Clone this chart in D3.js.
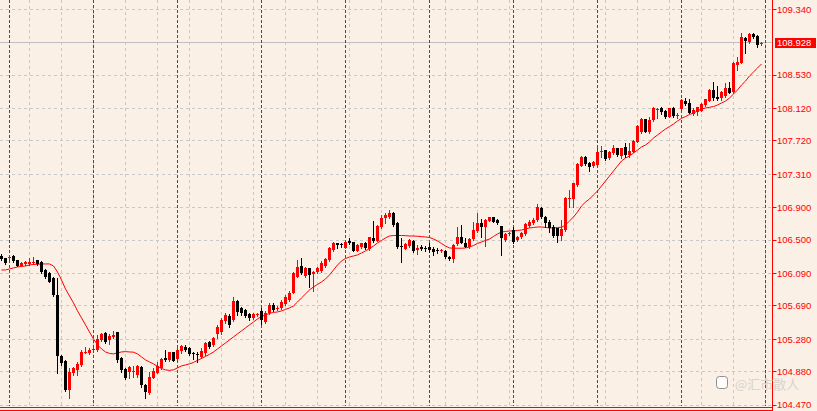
<!DOCTYPE html>
<html>
<head>
<meta charset="utf-8">
<script src="https://cdn.jsdelivr.net/npm/d3@7"></script>
<style>
  html, body { margin: 0; padding: 0; background: #faf0e6; }
  svg { display: block; }
</style>
</head>
<body>
<svg id="chart" width="817" height="411"></svg>
<script>
// daily candles, oldest first
var openPrices = [
  106.308,106.276,106.276,106.308,106.251,106.185,106.202,106.206,106.218,106.255,
  106.234,106.132,106.091,106.037,105.825,105.078,105.013,104.656,104.861,104.902,
  104.963,105.107,105.115,105.148,105.148,105.271,105.353,105.271,105.312,105.366,
  105.053,104.914,104.881,104.881,104.840,104.943,104.718,104.615,104.807,104.861,
  104.923,105.045,105.025,105.120,105.036,105.136,105.189,105.176,105.107,105.099,
  105.066,105.107,105.250,105.210,105.345,105.369,105.505,105.566,105.517,105.754,
  105.661,105.640,105.591,105.535,105.578,105.631,105.492,105.599,105.702,105.656,
  105.661,105.714,105.763,105.853,106.050,106.181,106.058,106.153,106.083,106.104,
  106.123,106.181,106.255,106.378,106.460,106.452,106.406,106.485,106.473,106.369,
  106.411,106.468,106.387,106.526,106.492,106.665,106.768,106.780,106.829,106.710,
  106.421,106.396,106.427,106.492,106.378,106.419,106.403,106.415,106.387,106.378,
  106.372,106.369,106.296,106.267,106.452,106.534,106.468,106.411,106.513,106.612,
  106.704,106.661,106.738,106.780,106.747,106.667,106.501,106.569,106.618,106.501,
  106.532,106.575,106.677,106.706,106.747,106.895,106.788,106.722,106.657,106.645,
  106.550,106.624,107.005,107.011,107.177,107.417,107.526,107.452,107.407,107.423,
  107.592,107.604,107.506,107.568,107.629,107.534,107.651,107.541,107.587,107.710,
  107.824,107.987,107.834,107.978,108.101,108.122,108.092,108.018,108.129,108.030,
  108.109,108.215,108.187,108.051,108.080,108.092,108.162,108.215,108.347,108.264,
  108.245,108.273,108.368,108.326,108.654,108.683,108.983,108.941,109.036,109.011,
  108.909
];
var highPrices = [
  106.325,106.283,106.316,106.316,106.255,106.227,106.243,106.276,106.288,106.259,
  106.243,106.144,106.104,106.050,106.030,105.087,105.025,104.923,104.943,105.004,
  105.148,105.189,105.176,105.210,105.333,105.353,105.366,105.341,105.382,105.373,
  105.066,104.923,104.955,104.955,104.963,104.951,104.726,104.881,104.923,105.004,
  105.045,105.148,105.127,105.127,105.201,105.210,105.210,105.185,105.127,105.127,
  105.169,105.250,105.263,105.312,105.456,105.538,105.599,105.591,105.803,105.763,
  105.680,105.649,105.603,105.607,105.607,105.665,105.628,105.722,105.722,105.689,
  105.763,105.825,105.874,106.107,106.255,106.276,106.173,106.157,106.120,106.173,
  106.246,106.276,106.419,106.480,106.468,106.468,106.492,106.522,106.480,106.448,
  106.468,106.480,106.542,106.738,106.682,106.809,106.837,106.870,106.849,106.719,
  106.526,106.458,106.507,106.501,106.440,106.440,106.427,106.460,106.419,106.399,
  106.394,106.378,106.308,106.452,106.661,106.686,106.522,106.522,106.726,106.837,
  106.759,106.759,106.788,106.788,106.756,106.673,106.583,106.603,106.657,106.554,
  106.603,106.706,106.747,106.768,106.938,106.911,106.796,106.747,106.686,106.652,
  106.747,107.034,107.116,107.202,107.444,107.534,107.534,107.460,107.472,107.649,
  107.657,107.612,107.595,107.670,107.637,107.637,107.690,107.690,107.731,107.916,
  107.999,107.994,108.018,108.134,108.122,108.134,108.101,108.129,108.138,108.060,
  108.232,108.245,108.232,108.125,108.141,108.183,108.240,108.355,108.449,108.396,
  108.334,108.429,108.449,108.691,108.757,109.045,109.003,109.045,109.045,109.020,
  108.940
];
var lowPrices = [
  106.255,106.206,106.255,106.234,106.177,106.177,106.193,106.193,106.202,106.193,
  106.091,106.030,105.981,105.816,104.861,104.963,104.647,104.554,104.840,104.840,
  104.955,105.107,105.102,105.136,105.136,105.259,105.230,105.222,105.299,104.997,
  104.881,104.791,104.807,104.820,104.820,104.697,104.562,104.607,104.800,104.861,
  104.914,105.013,105.016,105.013,105.025,105.107,105.136,105.087,105.033,105.004,
  105.046,105.087,105.169,105.197,105.296,105.345,105.484,105.431,105.508,105.578,
  105.578,105.554,105.517,105.523,105.566,105.468,105.480,105.591,105.628,105.640,
  105.652,105.702,105.751,105.845,106.042,106.083,106.050,105.919,105.877,106.091,
  106.111,106.173,106.246,106.369,106.399,106.411,106.399,106.452,106.366,106.362,
  106.403,106.387,106.378,106.480,106.485,106.645,106.706,106.768,106.673,106.403,
  106.234,106.384,106.419,106.353,106.329,106.378,106.366,106.357,106.317,106.341,
  106.353,106.283,106.255,106.230,106.443,106.460,106.411,106.403,106.501,106.603,
  106.542,106.427,106.735,106.719,106.698,106.317,106.492,106.563,106.460,106.492,
  106.522,106.566,106.665,106.701,106.738,106.772,106.657,106.603,106.542,106.480,
  106.501,106.612,106.911,106.911,107.171,107.411,107.423,107.353,107.398,107.403,
  107.526,107.481,107.497,107.563,107.538,107.506,107.526,107.526,107.583,107.707,
  107.817,107.824,107.814,107.969,107.999,108.051,107.999,108.014,108.018,107.999,
  108.101,108.158,108.060,108.039,108.039,108.085,108.153,108.208,108.224,108.224,
  108.224,108.264,108.306,108.306,108.593,108.675,108.806,108.929,108.983,108.880,
  108.897
];
var closePrices = [
  106.267,106.214,106.296,106.243,106.185,106.214,106.234,106.234,106.230,106.202,
  106.111,106.050,105.988,105.825,105.078,104.984,104.656,104.874,104.923,104.976,
  105.127,105.127,105.148,105.160,105.283,105.341,105.250,105.324,105.333,105.025,
  104.902,104.800,104.943,104.894,104.955,104.718,104.635,104.820,104.890,104.955,
  105.036,105.028,105.120,105.016,105.148,105.197,105.148,105.095,105.095,105.087,
  105.139,105.230,105.189,105.292,105.431,105.517,105.578,105.456,105.754,105.615,
  105.599,105.566,105.535,105.591,105.591,105.517,105.603,105.702,105.640,105.665,
  105.742,105.803,105.853,106.091,106.173,106.091,106.153,106.071,106.111,106.153,
  106.214,106.264,106.399,106.468,106.440,106.443,106.480,106.468,106.369,106.440,
  106.460,106.399,106.534,106.492,106.673,106.768,106.809,106.837,106.686,106.415,
  106.411,106.446,106.495,106.366,106.403,106.387,106.394,106.378,106.357,106.362,
  106.378,106.292,106.267,106.440,106.538,106.468,106.415,106.510,106.624,106.706,
  106.661,106.747,106.780,106.726,106.704,106.526,106.575,106.583,106.477,106.542,
  106.583,106.698,106.719,106.751,106.901,106.778,106.706,106.649,106.550,106.546,
  106.642,107.014,107.018,107.198,107.435,107.526,107.442,107.395,107.464,107.587,
  107.599,107.503,107.587,107.633,107.547,107.629,107.547,107.596,107.719,107.903,
  107.987,107.834,107.978,108.122,108.109,108.080,108.011,108.122,108.027,108.039,
  108.224,108.174,108.067,108.101,108.134,108.174,108.232,108.347,108.245,108.232,
  108.326,108.368,108.313,108.683,108.695,108.995,108.953,109.036,109.003,108.901,
  108.928
];
// moving average line
var maValues = [
  106.132,106.132,106.144,106.157,106.169,106.175,106.181,106.193,106.200,106.202,
  106.206,106.206,106.206,106.181,106.107,106.009,105.898,105.812,105.726,105.628,
  105.542,105.456,105.369,105.283,105.210,105.160,105.123,105.105,105.099,105.111,
  105.123,105.127,105.123,105.120,105.099,105.062,105.025,105.000,104.976,104.945,
  104.920,104.902,104.896,104.902,104.927,104.951,104.963,104.976,104.994,105.019,
  105.043,105.068,105.093,105.123,105.160,105.197,105.234,105.271,105.308,105.345,
  105.382,105.419,105.456,105.492,105.529,105.560,105.578,105.597,105.609,105.615,
  105.628,105.646,105.665,105.689,105.738,105.788,105.837,105.886,105.923,105.954,
  105.984,106.021,106.071,106.132,106.193,106.243,106.273,106.292,106.304,106.317,
  106.341,106.366,106.396,106.427,106.464,106.495,106.526,106.550,106.556,106.556,
  106.556,106.554,106.550,106.550,106.547,106.542,106.538,106.532,106.513,106.489,
  106.458,106.427,106.403,106.399,106.399,106.399,106.403,106.415,106.433,106.458,
  106.476,106.495,106.513,106.544,106.575,106.599,106.606,106.612,106.612,106.618,
  106.624,106.636,106.649,106.655,106.661,106.661,106.655,106.649,106.649,106.655,
  106.657,106.686,106.735,106.784,106.845,106.919,106.968,107.005,107.055,107.104,
  107.165,107.227,107.288,107.350,107.411,107.473,107.510,107.534,107.571,107.608,
  107.645,107.670,107.707,107.756,107.793,107.830,107.867,107.897,107.928,107.965,
  107.998,108.020,108.045,108.063,108.088,108.113,108.125,108.134,108.143,108.162,
  108.187,108.211,108.248,108.297,108.347,108.408,108.457,108.519,108.568,108.617,
  108.667
];
var priceTicks = [109.34, 108.53, 108.12, 107.72, 107.31, 106.90, 106.50, 106.09, 105.69, 105.28, 104.88, 104.47];
var bidPrice = 108.928;

var svg = d3.select("#chart");
var W = 817, H = 411, axisX = 772.5;
var bg = "#faf0e6", red = "#ff0000";

svg.append("rect").attr("width", W).attr("height", H).attr("fill", bg);

var n = closePrices.length;
var x = d3.scaleLinear().domain([0, n - 1]).range([1.5, 1.5 + 4 * (n - 1)]);
var y = d3.scaleLinear().domain([104.47, 109.34]).range([405, 9.3]);
var crisp = function(v) { return Math.round(v - 0.5) + 0.5; };

var grid = svg.append("g");

// horizontal grid
grid.selectAll("line.h")
  .data(priceTicks)
  .enter().append("line")
  .attr("x1", 0).attr("x2", axisX)
  .attr("y1", function(d) { return crisp(y(d)); })
  .attr("y2", function(d) { return crisp(y(d)); })
  .attr("stroke", "#c8c8c8").attr("stroke-dasharray", "3,3");

// vertical grid every 8 bars, period separators every 21 bars
var vGrid = d3.range(7, n + 1, 8);
var seps = d3.range(2, n + 1, 21);
grid.selectAll("line.v")
  .data(vGrid)
  .enter().append("line")
  .attr("x1", function(d) { return x(d); }).attr("x2", function(d) { return x(d); })
  .attr("y1", 0).attr("y2", 406)
  .attr("stroke", "#c8c8c8").attr("stroke-dasharray", "3,3");

// bid line
grid.append("line")
  .attr("x1", 0).attr("x2", axisX)
  .attr("y1", crisp(y(bidPrice))).attr("y2", crisp(y(bidPrice)))
  .attr("stroke", "#c0c0c0");

grid.selectAll("line.s")
  .data(seps)
  .enter().append("line")
  .attr("x1", function(d) { return x(d); }).attr("x2", function(d) { return x(d); })
  .attr("y1", 0).attr("y2", 406)
  .attr("stroke", red).attr("stroke-dasharray", "3,2");

// moving average
svg.append("path")
  .datum(maValues)
  .attr("d", d3.line().x(function(d, i) { return x(i); }).y(function(d) { return y(d); }))
  .attr("fill", "none").attr("stroke", red).attr("stroke-width", 1);

// candles
var idx = d3.range(n);
var colorOf = function(i) { return closePrices[i] >= openPrices[i] ? red : "#000"; };
var candles = svg.append("g").selectAll("g")
  .data(idx)
  .enter().append("g");

candles.append("rect")
  .attr("x", function(i) { return x(i) - 0.5; })
  .attr("width", 1)
  .attr("y", function(i) { return Math.round(y(highPrices[i])); })
  .attr("height", function(i) { return Math.max(1, Math.round(y(lowPrices[i])) - Math.round(y(highPrices[i])) + 1); })
  .attr("fill", colorOf);

candles.append("rect")
  .attr("x", function(i) { return x(i) - 1.5; })
  .attr("width", 3)
  .attr("y", function(i) { return Math.round(y(Math.max(openPrices[i], closePrices[i]))); })
  .attr("height", function(i) {
    return Math.max(1, Math.round(y(Math.min(openPrices[i], closePrices[i]))) - Math.round(y(Math.max(openPrices[i], closePrices[i]))));
  })
  .attr("fill", colorOf);

// bottom border
svg.selectAll("line.b")
  .data([407.5, 410.5])
  .enter().append("line")
  .attr("x1", 0).attr("x2", axisX)
  .attr("y1", function(d) { return d; }).attr("y2", function(d) { return d; })
  .attr("stroke", red);

// price axis
svg.append("rect").attr("x", axisX + 0.5).attr("y", 0).attr("width", W - axisX).attr("height", H).attr("fill", bg);
svg.append("line").attr("x1", axisX).attr("x2", axisX).attr("y1", 0).attr("y2", H).attr("stroke", red);

var axis = svg.append("g");
axis.selectAll("line")
  .data(priceTicks)
  .enter().append("line")
  .attr("x1", axisX).attr("x2", axisX + 4)
  .attr("y1", function(d) { return crisp(y(d)); })
  .attr("y2", function(d) { return crisp(y(d)); })
  .attr("stroke", red);

axis.selectAll("text")
  .data(priceTicks)
  .enter().append("text")
  .attr("x", 777)
  .attr("y", function(d) { return y(d); })
  .attr("dy", "0.35em")
  .attr("fill", red)
  .style("font", "9.5px 'Liberation Sans', Arial, sans-serif")
  .text(function(d) { return d.toFixed(3); });

// current price label
var by = y(bidPrice);
svg.append("rect").attr("x", 775).attr("y", Math.round(by) - 5).attr("width", 41).attr("height", 10).attr("fill", red);
svg.append("text")
  .attr("x", 777).attr("y", by).attr("dy", "0.35em")
  .attr("fill", "#fff")
  .style("font", "9.5px 'Liberation Sans', Arial, sans-serif")
  .text(bidPrice.toFixed(3));

// watermark
var wm = svg.append("g").attr("opacity", 0.9);
wm.append("rect").attr("x", 716.5).attr("y", 376.5).attr("width", 11).attr("height", 12).attr("rx", 3)
  .attr("fill", "#fff").attr("stroke", "#666").attr("stroke-width", 0.8);
wm.append("text").attr("x", 735).attr("y", 389)
  .attr("fill", "#d6d0ca")
  .style("font", "13px 'Noto Sans CJK SC', sans-serif")
  .text("@汇市散人");
</script>
</body>
</html>
